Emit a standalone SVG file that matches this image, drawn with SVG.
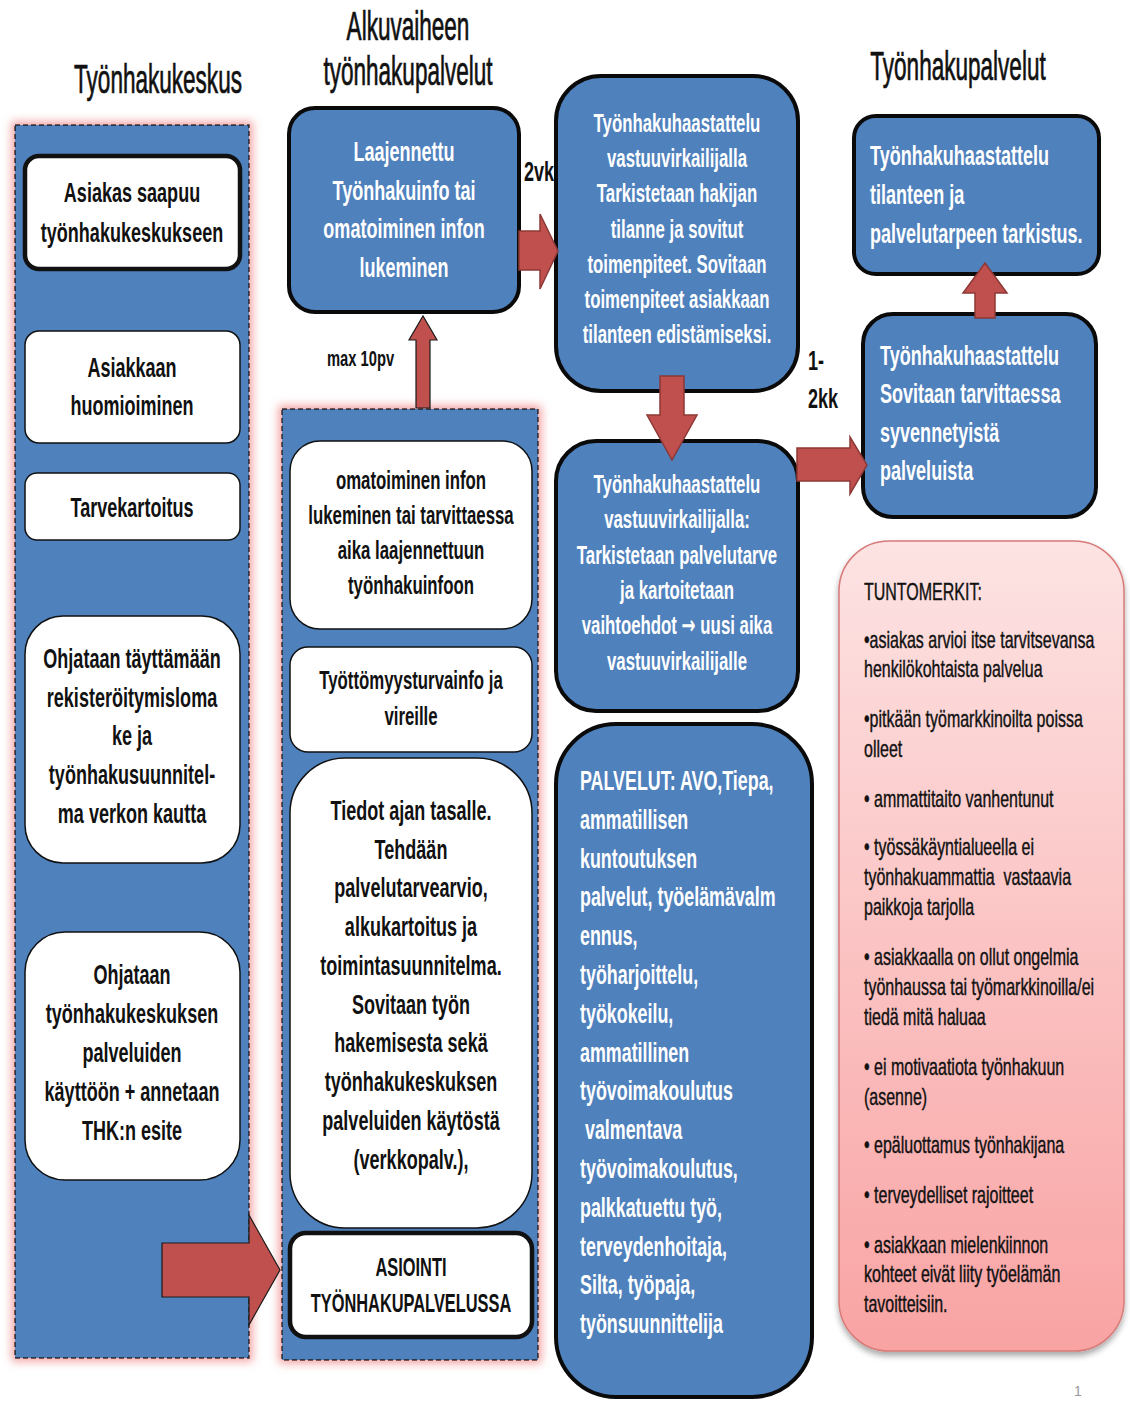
<svg xmlns="http://www.w3.org/2000/svg" width="1130" height="1401" viewBox="0 0 1130 1401">
  <defs>
    <style>
      text { font-family: "Liberation Sans", Arial, sans-serif; }
      .b { font-weight: bold; }
      .c { text-anchor: middle; }
      .dark { fill: #111; }
      .light { fill: #fff; }
      .title { font-size: 27.5px; fill: #111; stroke: #111; stroke-width: 0.5; text-anchor: middle; }
      .panel { fill: #4f81bd; stroke: #222; stroke-width: 1.5; stroke-dasharray: 5 3; }
      .wbox { fill: #fff; stroke: #111; stroke-width: 1.5; }
      .wbox.thick { stroke-width: 4.5; }
      .bbox { fill: #4f81bd; stroke: #0a0a0a; stroke-width: 4; }
      .arrow { fill: #c0504d; stroke: #8c3836; stroke-width: 1.5; stroke-linejoin: miter; }
      .arrow.dark-edge { stroke: #1a1a1a; stroke-width: 1.2; }
      .tunto { font-size: 19.5px; fill: #111; stroke: #111; stroke-width: 0.35; }
      .sym { font-family: "DejaVu Sans", sans-serif; }
    </style>
    <filter id="glow" x="-15%" y="-5%" width="130%" height="110%">
      <feMorphology in="SourceAlpha" operator="dilate" radius="3" result="grown"/>
      <feGaussianBlur in="grown" stdDeviation="4" result="soft"/>
      <feFlood flood-color="#f08a8a" flood-opacity="0.75"/>
      <feComposite in2="soft" operator="in" result="halo"/>
      <feMerge><feMergeNode in="halo"/><feMergeNode in="SourceGraphic"/></feMerge>
    </filter>
    <filter id="shadow" x="-10%" y="-5%" width="120%" height="115%">
      <feGaussianBlur in="SourceAlpha" stdDeviation="3"/>
      <feOffset dx="0" dy="4" result="off"/>
      <feComponentTransfer><feFuncA type="linear" slope="0.35"/></feComponentTransfer>
      <feMerge><feMergeNode/><feMergeNode in="SourceGraphic"/></feMerge>
    </filter>
    <linearGradient id="pink" x1="0" y1="0" x2="0" y2="1">
      <stop offset="0" stop-color="#fde3e3"/>
      <stop offset="1" stop-color="#f9a3a3"/>
    </linearGradient>
  </defs>

  <rect width="1130" height="1401" fill="#fff"/>

  <!-- column headings (narrow letterforms: compressed horizontally, stretched vertically) -->
  <g id="headings">
    <text class="title" transform="translate(158,93) scale(0.82,1.45)">Työnhakukeskus</text>
    <text class="title" transform="translate(408,40) scale(0.82,1.45)">Alkuvaiheen</text>
    <text class="title" transform="translate(408,85) scale(0.82,1.45)">työnhakupalvelut</text>
    <text class="title" transform="translate(958,80) scale(0.82,1.45)">Työnhakupalvelut</text>
  </g>

  <!-- dashed background panels -->
  <g id="panel-keskus">
    <rect class="panel" x="15" y="125" width="234" height="1233" filter="url(#glow)"/>
  </g>
  <g id="panel-alkuvaihe">
    <rect class="panel" x="282" y="409" width="256" height="951" filter="url(#glow)"/>
  </g>

  <!-- timing labels (sit under the boxes) -->
  <g id="labels">
    <text class="b dark" font-size="22" transform="translate(524,181) scale(0.82,1.25)">2vk</text>
    <text class="b dark" font-size="18" transform="translate(327,366) scale(0.82,1.25)">max 10pv</text>
    <text class="b dark" font-size="22" transform="translate(808,370) scale(0.82,1.25)">1-</text>
    <text class="b dark" font-size="22" transform="translate(808,408) scale(0.82,1.25)">2kk</text>
  </g>

  <!-- left column -->
  <g id="asiakas-saapuu">
    <rect class="wbox thick" x="25" y="156" width="215" height="113" rx="14"/>
    <text class="b c dark" font-size="22" transform="translate(132,202) scale(0.82,1.25)"><tspan x="0">Asiakas saapuu</tspan><tspan x="0" dy="32">työnhakukeskukseen</tspan></text>
  </g>
  <g id="huomioiminen">
    <rect class="wbox" x="25" y="331" width="215" height="112" rx="14"/>
    <text class="b c dark" font-size="22" transform="translate(132,377) scale(0.82,1.25)"><tspan x="0">Asiakkaan</tspan><tspan x="0" dy="30.4">huomioiminen</tspan></text>
  </g>
  <g id="tarvekartoitus">
    <rect class="wbox" x="25" y="473" width="215" height="67" rx="12"/>
    <text class="b c dark" font-size="22" transform="translate(132,517) scale(0.82,1.25)">Tarvekartoitus</text>
  </g>
  <g id="rekisteroityminen">
    <rect class="wbox" x="25" y="616" width="215" height="247" rx="38"/>
    <text class="b c dark" font-size="22" transform="translate(132,668) scale(0.82,1.25)"><tspan x="0">Ohjataan täyttämään</tspan><tspan x="0" dy="31">rekisteröitymisloma</tspan><tspan x="0" dy="31">ke ja</tspan><tspan x="0" dy="31">työnhakusuunnitel-</tspan><tspan x="0" dy="31">ma verkon kautta</tspan></text>
  </g>
  <g id="palveluiden-kaytto">
    <rect class="wbox" x="25" y="932" width="215" height="248" rx="40"/>
    <text class="b c dark" font-size="22" transform="translate(132,984) scale(0.82,1.25)"><tspan x="0">Ohjataan</tspan><tspan x="0" dy="31.2">työnhakukeskuksen</tspan><tspan x="0" dy="31.2">palveluiden</tspan><tspan x="0" dy="31.2">käyttöön + annetaan</tspan><tspan x="0" dy="31.2">THK:n esite</tspan></text>
  </g>

  <!-- early-stage column -->
  <g id="laajennettu-info">
    <rect class="bbox" x="289" y="108" width="230" height="204" rx="26"/>
    <text class="b c light" font-size="22" transform="translate(404,161) scale(0.82,1.25)"><tspan x="0">Laajennettu</tspan><tspan x="0" dy="31">Työnhakuinfo tai</tspan><tspan x="0" dy="31">omatoiminen infon</tspan><tspan x="0" dy="31">lukeminen</tspan></text>
  </g>
  <g id="omatoiminen-info">
    <rect class="wbox" x="290" y="441" width="242" height="188" rx="30"/>
    <text class="b c dark" font-size="20.5" transform="translate(411,489) scale(0.82,1.25)"><tspan x="0">omatoiminen infon</tspan><tspan x="0" dy="28">lukeminen tai tarvittaessa</tspan><tspan x="0" dy="28">aika laajennettuun</tspan><tspan x="0" dy="28">työnhakuinfoon</tspan></text>
  </g>
  <g id="tyottomyysturva">
    <rect class="wbox" x="290" y="647" width="242" height="105" rx="18"/>
    <text class="b c dark" font-size="20.5" transform="translate(411,689) scale(0.82,1.25)"><tspan x="0">Työttömyysturvainfo ja</tspan><tspan x="0" dy="28.8">vireille</tspan></text>
  </g>
  <g id="tiedot-ajan-tasalle">
    <rect class="wbox" x="290" y="758" width="242" height="470" rx="55"/>
    <text class="b c dark" font-size="22" transform="translate(411,820) scale(0.82,1.25)"><tspan x="0">Tiedot ajan tasalle.</tspan><tspan x="0" dy="31">Tehdään</tspan><tspan x="0" dy="31">palvelutarvearvio,</tspan><tspan x="0" dy="31">alkukartoitus ja</tspan><tspan x="0" dy="31">toimintasuunnitelma.</tspan><tspan x="0" dy="31">Sovitaan työn</tspan><tspan x="0" dy="31">hakemisesta sekä</tspan><tspan x="0" dy="31">työnhakukeskuksen</tspan><tspan x="0" dy="31">palveluiden käytöstä</tspan><tspan x="0" dy="31">(verkkopalv.),</tspan></text>
  </g>
  <g id="asiointi">
    <rect class="wbox thick" x="290" y="1233" width="242" height="104" rx="16"/>
    <text class="b c dark" font-size="20" transform="translate(411,1276) scale(0.82,1.25)"><tspan x="0">ASIOINTI</tspan><tspan x="0" dy="28.5">TYÖNHAKUPALVELUSSA</tspan></text>
  </g>

  <!-- interview column -->
  <g id="haastattelu-1">
    <rect class="bbox" x="556" y="76" width="242" height="315" rx="45"/>
    <text class="b c light" font-size="20.5" transform="translate(677,132) scale(0.82,1.25)"><tspan x="0">Työnhakuhaastattelu</tspan><tspan x="0" dy="28.2">vastuuvirkailijalla</tspan><tspan x="0" dy="28.2">Tarkistetaan hakijan</tspan><tspan x="0" dy="28.2">tilanne ja sovitut</tspan><tspan x="0" dy="28.2">toimenpiteet. Sovitaan</tspan><tspan x="0" dy="28.2">toimenpiteet asiakkaan</tspan><tspan x="0" dy="28.2">tilanteen edistämiseksi.</tspan></text>
  </g>
  <g id="haastattelu-2">
    <rect class="bbox" x="556" y="441" width="242" height="270" rx="40"/>
    <text class="b c light" font-size="20.5" transform="translate(677,493) scale(0.82,1.25)"><tspan x="0">Työnhakuhaastattelu</tspan><tspan x="0" dy="28.3">vastuuvirkailijalla:</tspan><tspan x="0" dy="28.3">Tarkistetaan palvelutarve</tspan><tspan x="0" dy="28.3">ja kartoitetaan</tspan><tspan x="0" dy="28.3">vaihtoehdot <tspan class="sym">→</tspan> uusi aika</tspan><tspan x="0" dy="28.3">vastuuvirkailijalle</tspan></text>
  </g>
  <g id="palvelut">
    <rect class="bbox" x="556" y="724" width="256" height="673" rx="60"/>
    <text class="b light" font-size="21.8" transform="translate(580,790) scale(0.82,1.25)"><tspan x="0">PALVELUT: AVO,Tiepa,</tspan><tspan x="0" dy="31.04">ammatillisen</tspan><tspan x="0" dy="31.04">kuntoutuksen</tspan><tspan x="0" dy="31.04">palvelut, työelämävalm</tspan><tspan x="0" dy="31.04">ennus,</tspan><tspan x="0" dy="31.04">työharjoittelu,</tspan><tspan x="0" dy="31.04">työkokeilu,</tspan><tspan x="0" dy="31.04">ammatillinen</tspan><tspan x="0" dy="31.04">työvoimakoulutus</tspan><tspan x="0" dy="31.04" xml:space="preserve"> valmentava</tspan><tspan x="0" dy="31.04">työvoimakoulutus,</tspan><tspan x="0" dy="31.04">palkkatuettu työ,</tspan><tspan x="0" dy="31.04">terveydenhoitaja,</tspan><tspan x="0" dy="31.04">Silta, työpaja,</tspan><tspan x="0" dy="31.04">työnsuunnittelija</tspan></text>
  </g>

  <!-- job-search services column -->
  <g id="tilanteen-tarkistus">
    <rect class="bbox" x="854" y="116" width="245" height="158" rx="22"/>
    <text class="b light" font-size="22" transform="translate(870,165) scale(0.82,1.25)"><tspan x="0">Työnhakuhaastattelu</tspan><tspan x="0" dy="31.2">tilanteen ja</tspan><tspan x="0" dy="31.2">palvelutarpeen tarkistus.</tspan></text>
  </g>
  <g id="syvennetyt-palvelut">
    <rect class="bbox" x="863" y="314" width="233" height="203" rx="30"/>
    <text class="b light" font-size="22" transform="translate(880,365) scale(0.82,1.25)"><tspan x="0">Työnhakuhaastattelu</tspan><tspan x="0" dy="30.8">Sovitaan tarvittaessa</tspan><tspan x="0" dy="30.8">syvennetyistä</tspan><tspan x="0" dy="30.8">palveluista</tspan></text>
  </g>
  <g id="tuntomerkit">
    <rect x="839" y="541" width="285" height="810" rx="50" fill="url(#pink)" stroke="#d77b79" stroke-width="1.5" filter="url(#shadow)"/>
    <g transform="scale(0.82,1.2)">
      <text class="tunto" x="1053.7" y="500">TUNTOMERKIT:</text>
      <text class="tunto" x="1053.7" y="540">•asiakas arvioi itse tarvitsevansa</text>
      <text class="tunto" x="1053.7" y="564.2">henkilökohtaista palvelua</text>
      <text class="tunto" x="1053.7" y="605.8">•pitkään työmarkkinoilta poissa</text>
      <text class="tunto" x="1053.7" y="630.8">olleet</text>
      <text class="tunto" x="1053.7" y="672.5">• ammattitaito vanhentunut</text>
      <text class="tunto" x="1053.7" y="712.5">• työssäkäyntialueella ei</text>
      <text class="tunto" x="1053.7" y="737.5" xml:space="preserve">työnhakuammattia  vastaavia</text>
      <text class="tunto" x="1053.7" y="762.5">paikkoja tarjolla</text>
      <text class="tunto" x="1053.7" y="804.2">• asiakkaalla on ollut ongelmia</text>
      <text class="tunto" x="1053.7" y="829.2">työnhaussa tai työmarkkinoilla/ei</text>
      <text class="tunto" x="1053.7" y="854.2">tiedä mitä haluaa</text>
      <text class="tunto" x="1053.7" y="895.8">• ei motivaatiota työnhakuun</text>
      <text class="tunto" x="1053.7" y="920.8">(asenne)</text>
      <text class="tunto" x="1053.7" y="960.8">• epäluottamus työnhakijana</text>
      <text class="tunto" x="1053.7" y="1002.5">• terveydelliset rajoitteet</text>
      <text class="tunto" x="1053.7" y="1044.2">• asiakkaan mielenkiinnon</text>
      <text class="tunto" x="1053.7" y="1068.3">kohteet eivät liity työelämän</text>
      <text class="tunto" x="1053.7" y="1093.3">tavoitteisiin.</text>
    </g>
  </g>

  <!-- block arrows between steps -->
  <g id="connectors">
    <polygon class="arrow dark-edge" points="162,1243 249,1243 249,1215 280,1270 249,1325 249,1297 162,1297"/>
    <polygon class="arrow dark-edge" points="416,408 416,340 409,340 423,316 437,340 430,340 430,408"/>
    <polygon class="arrow" points="519,231 540,231 540,214 558,251 540,289 540,270 519,270"/>
    <polygon class="arrow" points="660,376 684,376 684,415 697,415 672,460 647,415 660,415"/>
    <polygon class="arrow" points="797,448 850,448 850,437 867,465 850,494 850,481 797,481"/>
    <polygon class="arrow" points="975,318 975,293 963,293 985,263 1007,293 995,293 995,318"/>
  </g>

  <!-- page number -->
  <text x="1074" y="1396" font-size="14" fill="#999">1</text>
</svg>
